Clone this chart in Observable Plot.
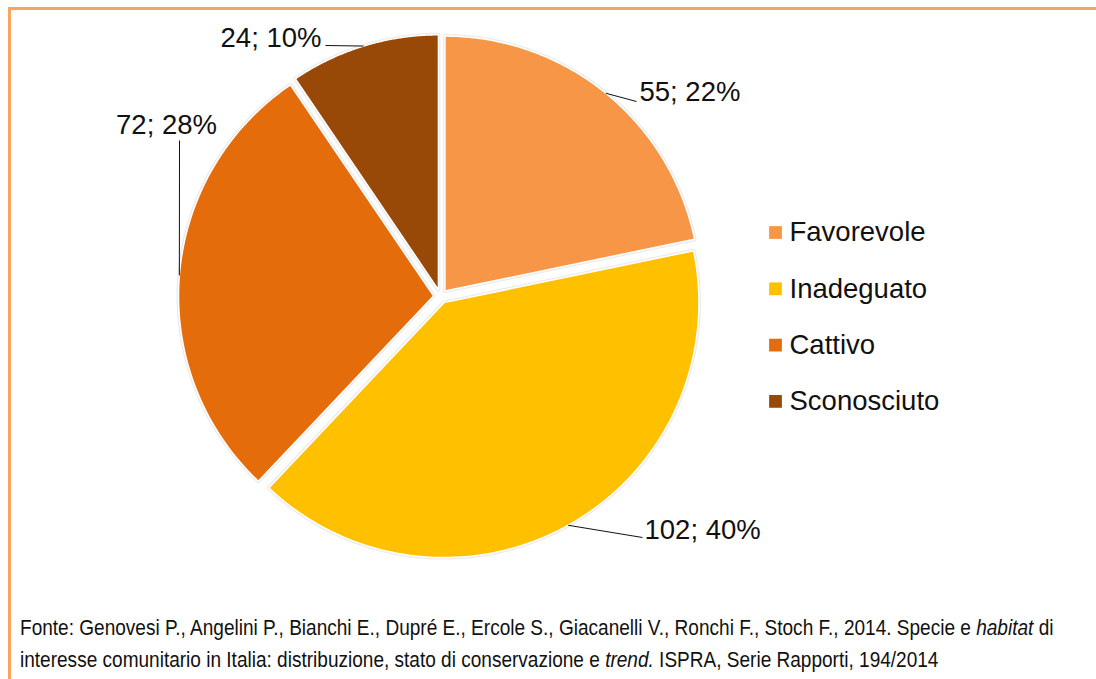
<!DOCTYPE html>
<html>
<head>
<meta charset="utf-8">
<script src="https://cdn.jsdelivr.net/npm/d3@7"></script>
<script src="https://cdn.jsdelivr.net/npm/@observablehq/plot@0.6"></script>
<style>
  html, body { margin: 0; padding: 0; background: #fff; overflow: hidden; }
  body { position: relative; width: 1096px; height: 679px; }
  .frame { position: absolute; left: 8px; top: 7px; width: 2000px; height: 2000px;
           border-left: 3px solid #F9A65A; border-top: 3px solid #F9A65A; box-sizing: border-box; }
  #chart { position: relative; height: 605px; }
  .caption { position: relative; margin-left: 20px; margin-top: 6px; width: 1300px;
             font-family: "Liberation Sans", Arial, sans-serif; white-space: nowrap;
             font-size: 22.8px; line-height: 32px; color: #111;
             transform: scaleX(0.835); transform-origin: 0 0; }
</style>
</head>
<body>
<div class="frame"></div>
<div id="chart"></div>
<div class="caption">Fonte: Genovesi P., Angelini P., Bianchi E., Dupré E., Ercole S., Giacanelli V., Ronchi F., Stoch F., 2014. Specie e <i>habitat</i> di<br>interesse comunitario in Italia: distribuzione, stato di conservazione e <i>trend.</i> ISPRA, Serie Rapporti, 194/2014</div>
<script>
// ---- data ----
const categories = ["Favorevole", "Inadeguato", "Cattivo", "Sconosciuto"];
const values = [55, 102, 72, 24];
const percentLabels = ["22%", "40%", "28%", "10%"];
const colors = ["#F79646", "#FFC000", "#E46C0A", "#984807"];

// ---- layout ----
const W = 1096, H = 605;
const cx = 440, cy = 296, R = 255, explode = 7;
// label placement (layout): leader end point and text anchor per category
const labelLayout = [
  {ex: 636, ey: 101, tx: 639, ty: 92, anchor: "start"},
  {ex: 642, ey: 537, tx: 644, ty: 530, anchor: "start"},
  {ex: 179, ey: 140, tx: 166, ty: 125, anchor: "middle"},
  {ex: 325, ey: 45,  tx: 321, ty: 38, anchor: "end"}
];
const legendX = 775, legendTextX = 789, legendY0 = 232, legendDY = 56.3;

const arcs = d3.pie().sort(null).value(d => d)(values);

const slices = arcs.map((a, i) => {
  const mid = (a.startAngle + a.endAngle) / 2;
  const ox = cx + explode * Math.sin(mid), oy = cy - explode * Math.cos(mid);
  const pts = [{x: ox, y: oy}];
  const n = 120;
  for (let k = 0; k <= n; k++) {
    const t = a.startAngle + (a.endAngle - a.startAngle) * k / n;
    pts.push({x: ox + R * Math.sin(t), y: oy - R * Math.cos(t)});
  }
  const edge = {x: ox + R * Math.sin(mid), y: oy - R * Math.cos(mid)};
  return {name: categories[i], color: colors[i], pts, edge};
});

const leaders = slices.map((s, i) => ({x1: s.edge.x, y1: s.edge.y, x2: labelLayout[i].ex, y2: labelLayout[i].ey}));
const labels = values.map((v, i) => ({x: labelLayout[i].tx, y: labelLayout[i].ty, text: `${v}; ${percentLabels[i]}`, anchor: labelLayout[i].anchor}));
const legend = categories.map((c, i) => ({name: c, color: colors[i], y: legendY0 + i * legendDY}));

const marks = [];
slices.forEach(s => {
  marks.push(Plot.line(s.pts, {x: "x", y: "y", curve: "linear-closed", fill: s.color, stroke: "#e6e6e6", strokeWidth: 4, strokeOpacity: 0.8}));
});
slices.forEach(s => {
  marks.push(Plot.line(s.pts, {x: "x", y: "y", curve: "linear-closed", fill: s.color, stroke: "white", strokeWidth: 1.5}));
});
marks.push(Plot.link(leaders, {x1: "x1", y1: "y1", x2: "x2", y2: "y2", stroke: "#111", strokeWidth: 1}));
["start", "middle", "end"].forEach(anc => {
  marks.push(Plot.text(labels.filter(d => d.anchor === anc), {x: "x", y: "y", text: "text", textAnchor: anc, fontSize: 27.5, fill: "#111"}));
});
marks.push(Plot.dot(legend, {x: () => legendX, y: "y", symbol: "square", r: 7.2, fill: d => d.color, stroke: "none"}));
marks.push(Plot.text(legend, {x: () => legendTextX, y: "y", text: "name", textAnchor: "start", fontSize: 27.5, fill: "#111"}));

const chart = Plot.plot({
  width: W, height: H,
  margin: 0,
  style: {fontFamily: "'Liberation Sans', Arial, sans-serif", background: "transparent"},
  x: {domain: [0, W], range: [0, W], axis: null},
  y: {domain: [0, H], range: [0, H], axis: null},
  marks
});
document.getElementById("chart").appendChild(chart);
</script>
</body>
</html>
